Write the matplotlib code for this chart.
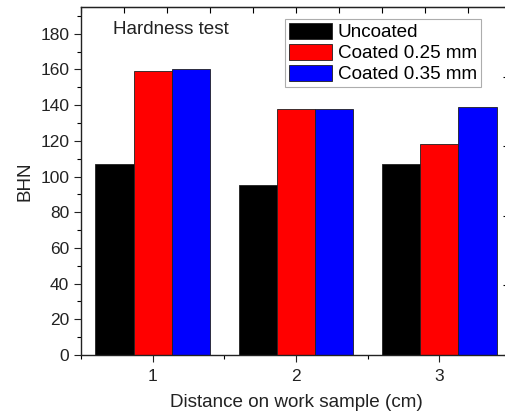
import numpy as np
import matplotlib
matplotlib.use("Agg")
import matplotlib.pyplot as plt
from matplotlib.ticker import MultipleLocator

plt.rcParams['font.family'] = ['Liberation Sans', 'DejaVu Sans']

positions = [1, 2, 3]
uncoated = [107, 95, 107]
coated_025 = [159, 138, 118]
coated_035 = [160, 138, 139]
series_names = ["Uncoated", "Coated 0.25 mm", "Coated 0.35 mm"]
colors = ["#000000", "#ff0000", "#0000ff"]

fig = plt.figure(figsize=(5.05, 4.16), dpi=100)
# right spine sits just past the image edge, like the cropped original
ax = fig.add_axes([81/505, 61/416, 430/505, 348/416])

x = np.array(positions, dtype=float)
w = 0.8 / 3
for i, (vals, name, c) in enumerate(zip([uncoated, coated_025, coated_035], series_names, colors)):
    ax.bar(x + (i - 1) * w, vals, width=w, color=c, edgecolor="#202020",
           linewidth=0.6, label=name)

ax.set_xlim(0.5, 3.5)
ax.set_ylim(0, 195)
ax.set_xticks(positions)
ax.xaxis.set_minor_locator(MultipleLocator(0.5))
ax.yaxis.set_major_locator(MultipleLocator(20))
ax.yaxis.set_minor_locator(MultipleLocator(10))
ax.tick_params(axis="both", which="major", direction="out", length=5, width=0.8,
               labelsize=12.5, colors="#222222")
ax.tick_params(axis="both", which="minor", direction="out", length=3, width=0.8)
ax.tick_params(axis="x", pad=5)

for s in ax.spines.values():
    s.set_linewidth(1.0)
    s.set_color("#222222")

# top and right axes carry their own evenly spaced ticks
top = ax.secondary_xaxis("top")
top.set_xticks(np.linspace(0.5, 3.5, 11))
top.tick_params(direction="in", length=4, labeltop=False, width=0.8)
right = ax.secondary_yaxis("right")
right.set_yticks(np.linspace(0, 195, 6))
right.tick_params(direction="in", length=6, labelright=False, width=0.8)

ax.set_xlabel("Distance on work sample (cm)", fontsize=13.6, labelpad=7, color="#222222")
ax.set_ylabel("BHN", fontsize=13.6, labelpad=5, color="#222222")

fig.text(113/505, 1 - 30/416, "Hardness test", fontsize=13.6, va="center", ha="left",
         color="#222222")

leg = ax.legend(loc="upper left", bbox_to_anchor=((285 - 81) / 430, (355 - 19) / 348),
                fontsize=13.6, frameon=True, fancybox=False, borderpad=0.2,
                handlelength=2.3, handleheight=0.95, handletextpad=0.3,
                labelspacing=0.12, borderaxespad=0)
leg.get_frame().set_edgecolor("#999999")
leg.get_frame().set_linewidth(0.8)

fig.savefig("out.png", dpi=100)
